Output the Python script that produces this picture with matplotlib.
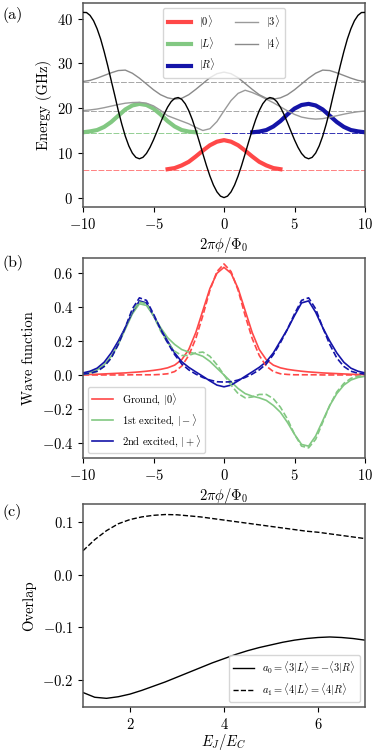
import numpy as np
import matplotlib
matplotlib.use("Agg")
import matplotlib.pyplot as plt

plt.rcParams['font.family'] = 'serif'
plt.rcParams['font.serif'] = ['cmr10', 'DejaVu Serif']
plt.rcParams['mathtext.fontset'] = 'cm'
plt.rcParams['axes.formatter.use_mathtext'] = True
plt.rcParams['axes.unicode_minus'] = True
plt.rcParams['font.size'] = 10.5

# ---- panel (a): potential and levels ----
phi_fine = np.linspace(-10, 10, 81)
potential_half = [0.0, 0.33, 1.28, 2.81, 4.83, 7.21, 9.81, 12.49, 15.08, 17.45,
                  19.45, 20.98, 21.97, 22.37, 22.18, 21.44, 20.22, 18.62, 16.77, 14.81,
                  12.91, 11.22, 9.87, 9.00, 8.68, 8.99, 9.95, 11.55, 13.73, 16.43,
                  19.47, 22.89, 26.18, 29.53, 32.64, 35.46, 37.74, 39.53, 40.73, 41.37,
                  41.39]
potential = potential_half[:0:-1] + potential_half

phi = np.linspace(-10, 10, 41)
level3 = [19.45, 19.6, 19.8, 20.1, 20.45, 20.8, 21.1, 21.25, 21.3, 21.1,
          20.5, 19.5, 18.3, 17.7, 17.1, 16.5, 15.7, 15.0, 15.4, 17.0,
          19.4,
          21.7, 23.3, 24.0, 23.5, 22.8, 22.0, 21.2, 20.3, 19.4, 18.6,
          18.0, 17.7, 17.55, 17.65, 17.95, 18.3, 18.65, 18.95, 19.2, 19.35]
level4 = [25.95, 26.2, 26.7, 27.3, 27.9, 28.4, 28.5, 27.8, 26.7, 25.4,
          24.1, 23.0, 22.3, 22.0, 22.2, 23.0, 24.2, 25.5, 26.8, 27.7,
          28.05,
          27.7, 26.8, 25.5, 24.2, 23.0, 22.2, 22.0, 22.3, 23.0, 24.1,
          25.4, 26.7, 27.8, 28.5, 28.4, 27.9, 27.3, 26.7, 26.2, 25.95]

phi_0 = np.linspace(-4, 4, 17)
state0 = [6.35, 6.6, 7.2, 8.0, 9.2, 10.5, 11.7, 12.5, 12.85,
          12.5, 11.7, 10.5, 9.2, 8.0, 7.2, 6.6, 6.35]
phi_L = np.linspace(-10, -2, 17)
stateL = [14.6, 14.8, 15.1, 15.8, 16.9, 18.3, 19.7, 20.6, 20.95,
          20.7, 19.9, 18.6, 17.1, 15.9, 15.1, 14.75, 14.6]
phi_R = np.linspace(2, 10, 17)
stateR = stateL[::-1]

E0, EL, E3, E4 = 6.13, 14.43, 19.4, 25.8

# ---- panel (b): wave functions ----
psi0 = [0.002, 0.003, 0.004, 0.006, 0.008, 0.01, 0.012, 0.015, 0.018, 0.022,
        0.027, 0.033, 0.042, 0.058, 0.09, 0.15, 0.25, 0.38, 0.51, 0.60,
        0.635,
        0.60, 0.51, 0.38, 0.25, 0.15, 0.09, 0.058, 0.042, 0.033, 0.027,
        0.022, 0.018, 0.015, 0.012, 0.01, 0.008, 0.006, 0.004, 0.003, 0.002]
psi0_approx = [0.0, 0.0, 0.0, 0.0, 0.0, 0.0, 0.0, 0.001, 0.001, 0.001,
               0.001, 0.003, 0.007, 0.02, 0.052, 0.115, 0.215, 0.35, 0.50, 0.61,
               0.655,
               0.61, 0.50, 0.35, 0.215, 0.115, 0.052, 0.02, 0.007, 0.003, 0.001,
               0.001, 0.001, 0.001, 0.0, 0.0, 0.0, 0.0, 0.0, 0.0, 0.0]
psi_minus = [0.008, 0.015, 0.03, 0.06, 0.11, 0.18, 0.27, 0.36, 0.42, 0.41,
             0.35, 0.28, 0.22, 0.18, 0.15, 0.135, 0.125, 0.11, 0.08, 0.04,
             0.0,
             -0.04, -0.08, -0.11, -0.125, -0.135, -0.15, -0.18, -0.22, -0.28, -0.35,
             -0.41, -0.42, -0.36, -0.27, -0.18, -0.11, -0.06, -0.03, -0.015, -0.008]
psi_minus_approx = [0.003, 0.008, 0.02, 0.05, 0.1, 0.18, 0.28, 0.38, 0.43, 0.42,
                    0.35, 0.26, 0.19, 0.14, 0.115, 0.115, 0.13, 0.135, 0.11, 0.06,
                    0.0,
                    -0.06, -0.11, -0.135, -0.13, -0.115, -0.115, -0.14, -0.19, -0.26, -0.35,
                    -0.42, -0.43, -0.38, -0.28, -0.18, -0.1, -0.05, -0.02, -0.008, -0.003]
psi_plus = [0.012, 0.022, 0.04, 0.075, 0.13, 0.2, 0.28, 0.37, 0.437, 0.425,
            0.35, 0.27, 0.2, 0.13, 0.078, 0.045, 0.018, -0.008, -0.035, -0.06,
            -0.07,
            -0.06, -0.035, -0.008, 0.018, 0.045, 0.078, 0.13, 0.2, 0.27, 0.35,
            0.425, 0.437, 0.37, 0.28, 0.2, 0.13, 0.075, 0.04, 0.022, 0.012]
psi_plus_approx = [0.005, 0.01, 0.022, 0.05, 0.1, 0.18, 0.28, 0.39, 0.455, 0.44,
                   0.36, 0.27, 0.19, 0.12, 0.065, 0.03, 0.005, -0.015, -0.03, -0.04,
                   -0.042,
                   -0.04, -0.03, -0.015, 0.005, 0.03, 0.065, 0.12, 0.19, 0.27, 0.36,
                   0.44, 0.455, 0.39, 0.28, 0.18, 0.1, 0.05, 0.022, 0.01, 0.005]

# ---- panel (c): overlaps ----
ej_ec = np.linspace(1, 7, 25)
a0 = [-0.223, -0.232, -0.234, -0.231, -0.226, -0.219, -0.211, -0.203, -0.194,
      -0.185, -0.176, -0.167, -0.159, -0.151, -0.144, -0.138, -0.133, -0.128,
      -0.124, -0.121, -0.119, -0.118, -0.119, -0.121, -0.124]
a1 = [0.045, 0.066, 0.083, 0.096, 0.104, 0.109, 0.112, 0.1135, 0.113, 0.111,
      0.109, 0.106, 0.103, 0.100, 0.097, 0.094, 0.091, 0.088, 0.085, 0.082,
      0.080, 0.077, 0.074, 0.071, 0.068]

red = '#ff4848'
green = '#82c882'
blue = '#1414a8'

fig = plt.figure(figsize=(3.74, 7.53), dpi=100)
W, H = 374, 753
def box(l, t, r, b):
    return [l / W, 1 - b / H, (r - l) / W, (b - t) / H]

ax1 = fig.add_axes(box(83, 3, 365, 207))
ax2 = fig.add_axes(box(83, 258, 365, 458))
ax3 = fig.add_axes(box(83, 504, 365, 707))

dash = (0, (7, 2))
ax1.axhline(E0, color=red, lw=0.6, ls=dash, alpha=0.8)
ax1.plot([-10, 0], [EL, EL], color=green, lw=0.6, ls=dash)
ax1.plot([0, 10], [EL, EL], color=blue, lw=0.6, ls=dash)
ax1.axhline(E3, color='#999999', lw=0.6, ls=dash)
ax1.axhline(E4, color='#999999', lw=0.6, ls=dash)
ax1.plot(phi_0, state0, color=red, lw=3, label=r'$|0\rangle$')
ax1.plot(phi_L, stateL, color=green, lw=3, label=r'$|L\rangle$')
ax1.plot(phi_R, stateR, color=blue, lw=3, label=r'$|R\rangle$')
ax1.plot(phi, level3, color='#9a9a9a', lw=1, label=r'$|3\rangle$')
ax1.plot(phi, level4, color='#8a8a8a', lw=1, label=r'$|4\rangle$')
ax1.plot(phi_fine, potential, color='black', lw=1, zorder=5)
ax1.set_xlim(-10, 10)
ax1.set_ylim(-2.1, 43.5)
ax1.set_yticks([0, 10, 20, 30, 40])
ax1.set_xticks([-10, -5, 0, 5, 10])
ax1.set_xlabel(r'$2\pi\phi/\Phi_0$', labelpad=2.5)
ax1.set_ylabel('Energy (GHz)')
ax1.legend(loc='upper center', ncol=2, fontsize=7.5, handlelength=2.2,
           columnspacing=1.8, borderpad=0.5)

ax2.plot(phi, psi0, color=red, lw=1.2, label=r'Ground, $|0\rangle$')
ax2.plot(phi, psi_minus, color=green, lw=1.2, label=r'1st excited, $|-\rangle$')
ax2.plot(phi, psi_plus, color=blue, lw=1.2, label=r'2nd excited, $|+\rangle$')
ax2.plot(phi, psi0_approx, color=red, lw=1.2, ls='--')
ax2.plot(phi, psi_minus_approx, color=green, lw=1.2, ls='--')
ax2.plot(phi, psi_plus_approx, color=blue, lw=1.2, ls='--')
ax2.set_xlim(-10, 10)
ax2.set_ylim(-0.49, 0.69)
ax2.set_xticks([-10, -5, 0, 5, 10])
ax2.set_yticks([-0.4, -0.2, 0.0, 0.2, 0.4, 0.6])
ax2.set_xlabel(r'$2\pi\phi/\Phi_0$', labelpad=2.5)
ax2.set_ylabel('Wave function')
ax2.legend(loc='lower left', fontsize=7.5)

ax3.plot(ej_ec, a0, color='black', lw=1,
         label=r'$a_0 = \langle 3|L\rangle = -\langle 3|R\rangle$')
ax3.plot(ej_ec, a1, color='black', lw=1, ls='--',
         label=r'$a_1 = \langle 4|L\rangle = \langle 4|R\rangle$')
ax3.set_xlim(1, 7)
ax3.set_ylim(-0.2504, 0.1334)
ax3.set_xticks([2, 4, 6])
ax3.set_yticks([-0.2, -0.1, 0.0, 0.1])
ax3.set_xlabel(r'$E_J/E_C$', labelpad=0.5)
ax3.set_ylabel('Overlap')
ax3.legend(loc='lower right', fontsize=7.5)

for ax in (ax1, ax2, ax3):
    for s in ax.spines.values():
        s.set_color('#555555')
        s.set_linewidth(1.1)

fig.text(2 / W, 1 - 15 / H, '(a)', fontsize=11.5, va='center', ha='left')
fig.text(2 / W, 1 - 263 / H, '(b)', fontsize=11.5, va='center', ha='left')
fig.text(2 / W, 1 - 512 / H, '(c)', fontsize=11.5, va='center', ha='left')

fig.savefig('out.png', dpi=100)
